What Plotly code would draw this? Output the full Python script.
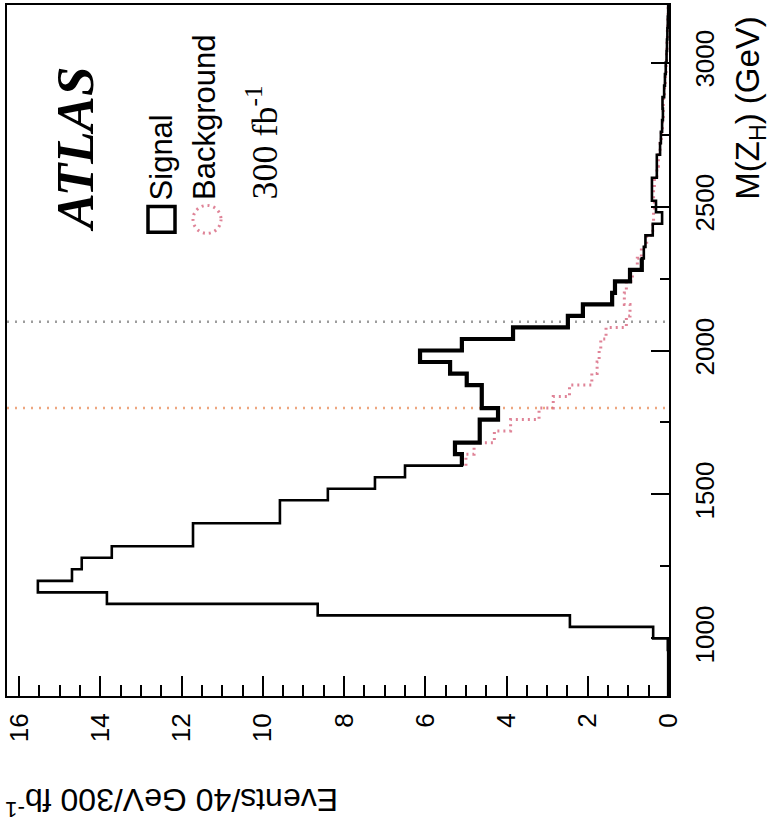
import plotly.graph_objects as go

# Histogram binning (GeV)
BIN_WIDTH = 40

# Signal (signal + background) counts per 40 GeV bin, starting at 800 GeV
signal_start = 800
signal_counts = [
    0.02, 0.02, 0.02, 0.02, 0.03,
    0.39, 2.44, 8.65, 13.84, 15.54,
    14.7, 14.46, 13.72, 11.72, 11.72,
    9.58, 9.58, 8.4, 7.24, 6.5,
    5.1, 5.27, 4.66, 4.66, 4.21,
    4.61, 4.61, 4.98, 5.39, 6.13,
    5.1, 3.84, 2.49, 2.12, 1.4,
    1.33, 0.96, 0.67, 0.62, 0.58,
    0.4, 0.17, 0.32, 0.42, 0.42,
    0.3, 0.3, 0.22, 0.2, 0.17,
    0.15, 0.16, 0.12, 0.1, 0.08,
    0.06, 0.05, 0.04, 0.03, 0.02,
]

# Background counts per 40 GeV bin, starting at 1600 GeV
background_start = 1600
background_counts = [
    5.0, 4.8, 4.3, 3.9, 3.2,
    2.85, 2.45, 1.9, 1.77, 1.72,
    1.68, 1.55, 1.05, 0.96, 1.1,
    1.05, 0.9, 0.78, 0.68, 0.55,
    0.4, 0.38, 0.36, 0.38, 0.36,
    0.3, 0.26, 0.22, 0.19, 0.16,
    0.14, 0.14, 0.11, 0.09, 0.07,
    0.06, 0.05, 0.04, 0.03, 0.02,
]

# Signal bins drawn with the heavier stroke (search window region)
heavy_first_bin, heavy_last_bin = 20, 37

# Mass window markers
window_masses = [1800, 2100]
window_colors = ["rgba(235,150,105,0.85)", "rgba(140,140,140,0.85)"]

events_range = [16.3, 0]
mass_range = [800, 3200]

W, H = 773, 828
PLOT_L, PLOT_R, PLOT_T, PLOT_B = 7, 669, 3, 696


def px(x):
    return (x - PLOT_L) / (PLOT_R - PLOT_L)


def py(y):
    return (PLOT_B - y) / (PLOT_B - PLOT_T)


def step_xy(start, counts):
    edges = [start + BIN_WIDTH * i for i in range(len(counts) + 1)]
    return counts + [counts[-1]], edges


sig_x, sig_y = step_xy(signal_start, signal_counts)
bkg_x, bkg_y = step_xy(background_start, background_counts)
heavy_x, heavy_y = step_xy(signal_start + BIN_WIDTH * heavy_first_bin,
                           signal_counts[heavy_first_bin:heavy_last_bin + 1])

fig = go.Figure()
fig.add_trace(go.Scatter(
    x=bkg_x, y=bkg_y, mode="lines", line_shape="vh",
    line=dict(color="rgba(215,100,125,0.8)", width=3, dash="2px,4px"),
    name="Background", showlegend=False, hoverinfo="skip",
))
fig.add_trace(go.Scatter(
    x=sig_x, y=sig_y, mode="lines", line_shape="vh",
    line=dict(color="black", width=2.6),
    name="Signal", showlegend=False, hoverinfo="skip",
))
fig.add_trace(go.Scatter(
    x=heavy_x, y=heavy_y, mode="lines", line_shape="vh",
    line=dict(color="black", width=4.2),
    showlegend=False, hoverinfo="skip",
))

shapes = []
for m, c in zip(window_masses, window_colors):
    shapes.append(dict(type="line", xref="paper", x0=0, x1=1, yref="y", y0=m, y1=m,
                       line=dict(color=c, width=2.5, dash="2px,6px"), layer="below"))
# legend symbols
shapes.append(dict(type="rect", xref="paper", yref="paper",
                   x0=px(148), x1=px(175), y0=py(231), y1=py(205),
                   line=dict(color="black", width=3.5)))
shapes.append(dict(type="circle", xref="paper", yref="paper",
                   x0=px(193), x1=px(221), y0=py(232), y1=py(204),
                   line=dict(color="rgba(215,100,125,0.8)", width=3, dash="2px,4px")))

sans = "Liberation Sans, Arial, sans-serif"
serif = "Liberation Serif, Times New Roman, serif"

annotations = [
    dict(text="<b><i>ATLAS</i></b>", x=px(75), y=py(148), textangle=-90,
         font=dict(family=serif, size=53, color="black")),
    dict(text="Signal", x=px(161), y=py(201), yanchor="bottom", textangle=-90,
         font=dict(family=sans, size=31, color="black")),
    dict(text="Background", x=px(205), y=py(201), yanchor="bottom", textangle=-90,
         font=dict(family=sans, size=31, color="black")),
    dict(text="300 fb<sup>-1</sup>", x=px(262), y=py(200), yanchor="bottom", textangle=-90,
         font=dict(family=serif, size=36, color="black")),
    dict(text="Events/40 GeV/300 fb<sup>-1</sup>", x=px(172), y=py(803), textangle=180,
         font=dict(family=sans, size=32, color="black")),
    dict(text="M(Z<sub>H</sub>) (GeV)", x=px(750), y=py(106), textangle=-90,
         font=dict(family=sans, size=33, color="black")),
]
for a in annotations:
    a.update(xref="paper", yref="paper", showarrow=False)
    a.setdefault("xanchor", "center")
    a.setdefault("yanchor", "middle")

fig.update_layout(
    width=W, height=H,
    margin=dict(l=PLOT_L, r=W - PLOT_R, t=PLOT_T, b=H - PLOT_B, pad=0),
    paper_bgcolor="white", plot_bgcolor="white",
    shapes=shapes, annotations=annotations,
    showlegend=False,
    xaxis=dict(
        range=events_range, tick0=0, dtick=2, ticks="inside", ticklen=20, tickwidth=2,
        tickcolor="black", showline=True, linecolor="black", linewidth=2, mirror=True,
        tickangle=-90, tickfont=dict(family=sans, size=26, color="black"),
        ticklabelstandoff=5, showgrid=False, zeroline=False,
        minor=dict(dtick=0.5, tick0=0, ticks="inside", ticklen=11, tickwidth=2, tickcolor="black"),
    ),
    yaxis=dict(
        range=mass_range, side="right", tick0=0, dtick=500, ticks="inside", ticklen=18,
        tickwidth=2, tickcolor="black", showline=True, linecolor="black", linewidth=2,
        mirror=True, tickangle=-90, tickfont=dict(family=sans, size=26, color="black"),
        ticklabelstandoff=12, showgrid=False, zeroline=False,
        minor=dict(dtick=250, tick0=0, ticks="inside", ticklen=9, tickwidth=2, tickcolor="black"),
    ),
)

fig.write_html("out.html")
